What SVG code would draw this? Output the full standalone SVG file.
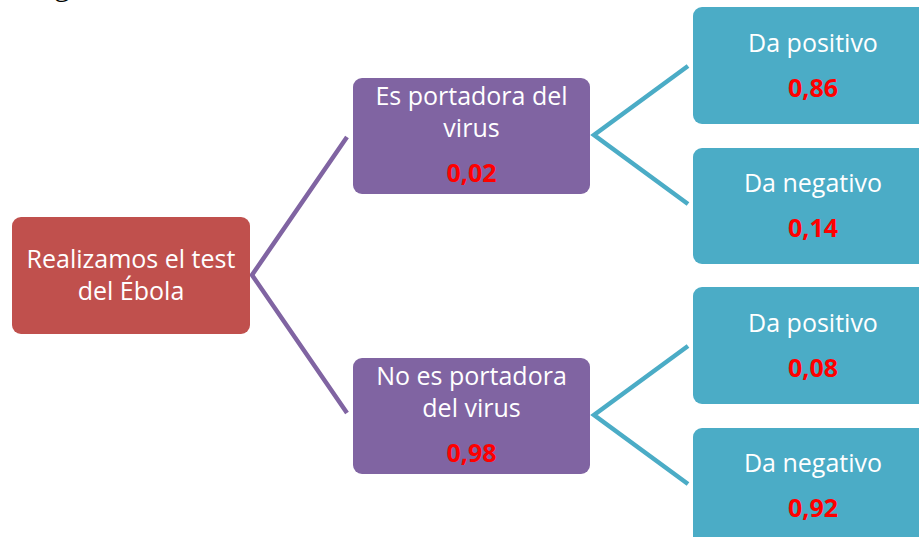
<svg xmlns="http://www.w3.org/2000/svg" width="919" height="537" viewBox="0 0 919 537">
<style>
.t{font-family:"Open Sans","DejaVu Sans",sans-serif;font-size:25px;fill:#ffffff;text-anchor:middle}
.n{font-family:"Open Sans","DejaVu Sans",sans-serif;font-size:25px;font-weight:bold;fill:#ff0000;text-anchor:middle}
.red{fill:#c0504d}
.pur{fill:#8064a2}
.teal{fill:#4bacc6}
.lp{stroke:#8064a2;stroke-width:4.5;fill:none}
.lt{stroke:#4bacc6;stroke-width:4.5;fill:none}
</style>
<rect width="919" height="537" fill="#ffffff"/>
<text x="54" y="-5" font-family="Liberation Serif, serif" font-size="32" fill="#000000">g</text>
<g id="connectors">
<polyline class="lp" points="347,137 252,275 347,413"/>
<polyline class="lt" points="688,66 594,135 688,204"/>
<polyline class="lt" points="688,346 594,415 688,484"/>
</g>
<g id="root">
<rect class="red" x="12" y="217" width="238" height="117" rx="9"/>
<text class="t" x="131" y="268">Realizamos el test</text>
<text class="t" x="131" y="300">del Ébola</text>
</g>
<g id="carrier">
<rect class="pur" x="353" y="78" width="237" height="116" rx="9"/>
<text class="t" x="471.5" y="105">Es portadora del</text>
<text class="t" x="471.5" y="137">virus</text>
<text class="n" x="471.5" y="182">0,02</text>
</g>
<g id="noncarrier">
<rect class="pur" x="353" y="358" width="237" height="116" rx="9"/>
<text class="t" x="471.5" y="385">No es portadora</text>
<text class="t" x="471.5" y="417">del virus</text>
<text class="n" x="471.5" y="462">0,98</text>
</g>
<g id="pos1">
<rect class="teal" x="693" y="7" width="240" height="117" rx="9"/>
<text class="t" x="813" y="52">Da positivo</text>
<text class="n" x="813" y="97">0,86</text>
</g>
<g id="neg1">
<rect class="teal" x="693" y="148" width="240" height="116" rx="9"/>
<text class="t" x="813" y="192">Da negativo</text>
<text class="n" x="813" y="237">0,14</text>
</g>
<g id="pos2">
<rect class="teal" x="693" y="287" width="240" height="117" rx="9"/>
<text class="t" x="813" y="332">Da positivo</text>
<text class="n" x="813" y="377">0,08</text>
</g>
<g id="neg2">
<rect class="teal" x="693" y="428" width="240" height="130" rx="9"/>
<text class="t" x="813" y="472">Da negativo</text>
<text class="n" x="813" y="517">0,92</text>
</g>
</svg>
